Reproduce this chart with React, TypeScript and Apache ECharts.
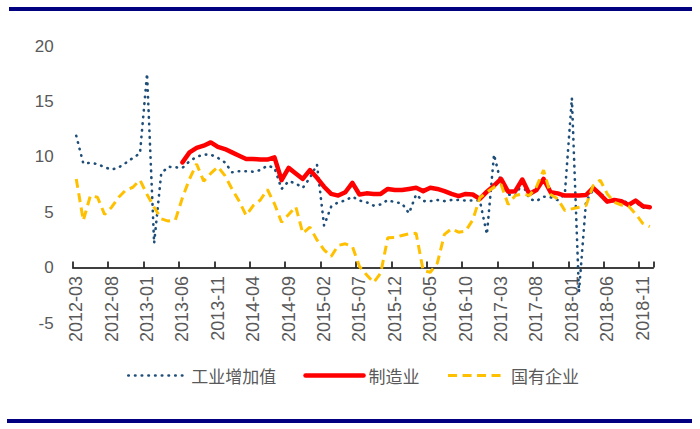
import React, { useEffect, useRef } from "react";
import * as echarts from "echarts";

// Monthly categories 2012-03 .. 2018-12
const months: string[] = (() => {
  const out: string[] = [];
  let y = 2012;
  let m = 3;
  while (!(y === 2019 && m === 1)) {
    out.push(`${y}-${m < 10 ? "0" + m : m}`);
    m += 1;
    if (m > 12) {
      m = 1;
      y += 1;
    }
  }
  return out;
})();

const seriesNames = ["工业增加值", "制造业", "国有企业"];

const industrial: number[] = [
  11.9, 9.4, 9.45, 9.35, 9.05, 8.85, 9.05, 9.45, 9.9, 10.3,
  17.5, 2.2, 8.5, 9.1, 9.05, 9.0, 9.6, 10.0, 10.2, 10.2,
  9.9, 9.5, 8.6, 8.7, 8.7, 8.65, 8.8, 9.2, 9.0, 7.1,
  7.8, 7.6, 7.2, 8.1, 9.3, 3.8, 5.5, 5.9, 6.05, 6.4,
  6.05, 5.9, 5.6, 5.7, 6.1, 5.9, 5.8, 4.9, 6.6, 6.0,
  6.0, 6.1, 6.0, 6.1, 6.1, 6.05, 6.05, 6.05, 3.0, 10.2,
  7.6, 6.6, 6.5, 7.6, 6.2, 6.0, 6.4, 6.35, 6.1, 6.6,
  15.3, -2.2, 6.0, 7.0, 6.8, 6.0, 6.0, 6.1, 5.8, 5.9,
  5.4, 5.5,
];

const manufacturing: (number | null)[] = [
  null, null, null, null, null, null, null, null, null, null,
  null, null, null, null, null, 9.5, 10.4, 10.8, 11.0, 11.3,
  10.9, 10.7, 10.4, 10.1, 9.8, 9.8, 9.75, 9.75, 9.95, 7.9,
  9.0, 8.5, 8.0, 8.8, 8.1, 7.3, 6.65, 6.5, 6.8, 7.65,
  6.6, 6.7, 6.65, 6.65, 7.1, 7.0, 7.0, 7.1, 7.2, 6.9,
  7.2, 7.1, 6.9, 6.65, 6.45, 6.65, 6.6, 6.2, 6.85, 7.4,
  8.0, 6.85, 6.9, 7.95, 6.65, 7.0, 8.0, 6.8, 6.7, 6.5,
  6.5, 6.5, 6.55, 7.2, 6.6, 5.95, 6.1, 6.0, 5.65, 6.05,
  5.55, 5.45,
];

const stateOwned: number[] = [
  8.0, 4.25, 6.5, 6.35, 4.8, 5.45, 6.35, 7.0, 7.25, 7.9,
  6.6, 5.45, 4.4, 4.2, 4.3, 6.3, 8.0, 9.35, 7.8, 8.5,
  9.1, 8.3, 7.1, 6.0, 4.7, 5.6, 6.1, 7.05, 5.75, 4.1,
  4.8, 5.5, 3.1, 3.65, 2.5, 1.6, 1.0, 2.0, 2.15, 1.9,
  0.1, -0.65, -1.35, -0.5, 2.7, 2.72, 2.9, 3.05, 3.1, -0.27,
  -0.42, 0.4, 3.0, 3.5, 3.2, 3.3, 4.3, 6.3, 6.8, 7.25,
  7.5, 5.7, 6.5, 6.65, 6.5, 7.3, 8.8, 6.6, 6.2, 5.15,
  5.3, 5.45, 5.6, 7.4, 7.9, 6.65, 5.9, 5.65, 5.55, 4.85,
  4.0, 3.7,
];

const yMin = -5;
const yMax = 20;
const yStep = 5;

export default function App() {
  const ref = useRef<HTMLDivElement | null>(null);

  useEffect(() => {
    if (!ref.current) return;
    const chart = echarts.init(ref.current, undefined, { renderer: "svg" });
    const labelFont = "'Liberation Sans', Arial, sans-serif";
    const cjkFont = "'Noto Sans CJK SC', 'Noto Sans', sans-serif";
    chart.setOption({
      animation: false,
      backgroundColor: "#ffffff",
      grid: { left: 72.7, right: 46.7, top: 46, bottom: 106, containLabel: false },
      xAxis: {
        type: "category",
        data: months,
        boundaryGap: true,
        axisLine: { show: true, onZero: true, lineStyle: { color: "#000000", width: 1.5 } },
        axisTick: {
          show: true,
          inside: true,
          length: 6,
          interval: 4,
          lineStyle: { color: "#000000", width: 1.5 },
        },
        axisLabel: {
          interval: 4,
          rotate: 90,
          margin: -47,
          color: "#595959",
          fontSize: 18,
          fontFamily: labelFont,
        },
        splitLine: { show: false },
      },
      yAxis: {
        type: "value",
        min: yMin,
        max: yMax,
        interval: yStep,
        axisLine: { show: false },
        axisTick: { show: false },
        splitLine: { show: false },
        axisLabel: { color: "#595959", fontSize: 17, margin: 19, fontFamily: labelFont },
      },
      legend: {
        left: 122,
        top: 362,
        itemWidth: 58,
        itemHeight: 12,
        itemGap: 27,
        data: seriesNames,
        textStyle: { color: "#595959", fontSize: 17, fontFamily: cjkFont },
        itemStyle: { color: "transparent", borderColor: "transparent", borderWidth: 0, opacity: 0 },
        lineStyle: { width: "inherit", type: "inherit", cap: "inherit" },
      },
      series: [
        {
          name: seriesNames[0],
          type: "line",
          data: industrial,
          symbol: "none",
          showSymbol: false,
          lineStyle: { color: "#1F4E79", width: 2.6, type: [0.5, 6.2], cap: "round" },
          itemStyle: { color: "#1F4E79" },
          z: 2,
        },
        {
          name: seriesNames[1],
          type: "line",
          data: manufacturing,
          symbol: "none",
          showSymbol: false,
          connectNulls: false,
          lineStyle: { color: "#FF0000", width: 4.5, cap: "round", join: "round" },
          itemStyle: { color: "#FF0000" },
          z: 3,
        },
        {
          name: seriesNames[2],
          type: "line",
          data: stateOwned,
          symbol: "none",
          showSymbol: false,
          lineStyle: { color: "#FFC000", width: 3, type: [9, 5.5] },
          itemStyle: { color: "#FFC000" },
          z: 4,
        },
      ],
      graphic: [
        {
          type: "rect",
          shape: { x: 9, y: 7, width: 683, height: 4 },
          style: { fill: "#000080" },
          silent: true,
        },
        {
          type: "rect",
          shape: { x: 7, y: 419, width: 685, height: 4 },
          style: { fill: "#000080" },
          silent: true,
        },
      ],
    });
    return () => {
      chart.dispose();
    };
  }, []);

  return (
    <div
      ref={ref}
      style={{ position: "fixed", left: 0, top: 0, width: 700, height: 429, background: "#fff" }}
    />
  );
}
